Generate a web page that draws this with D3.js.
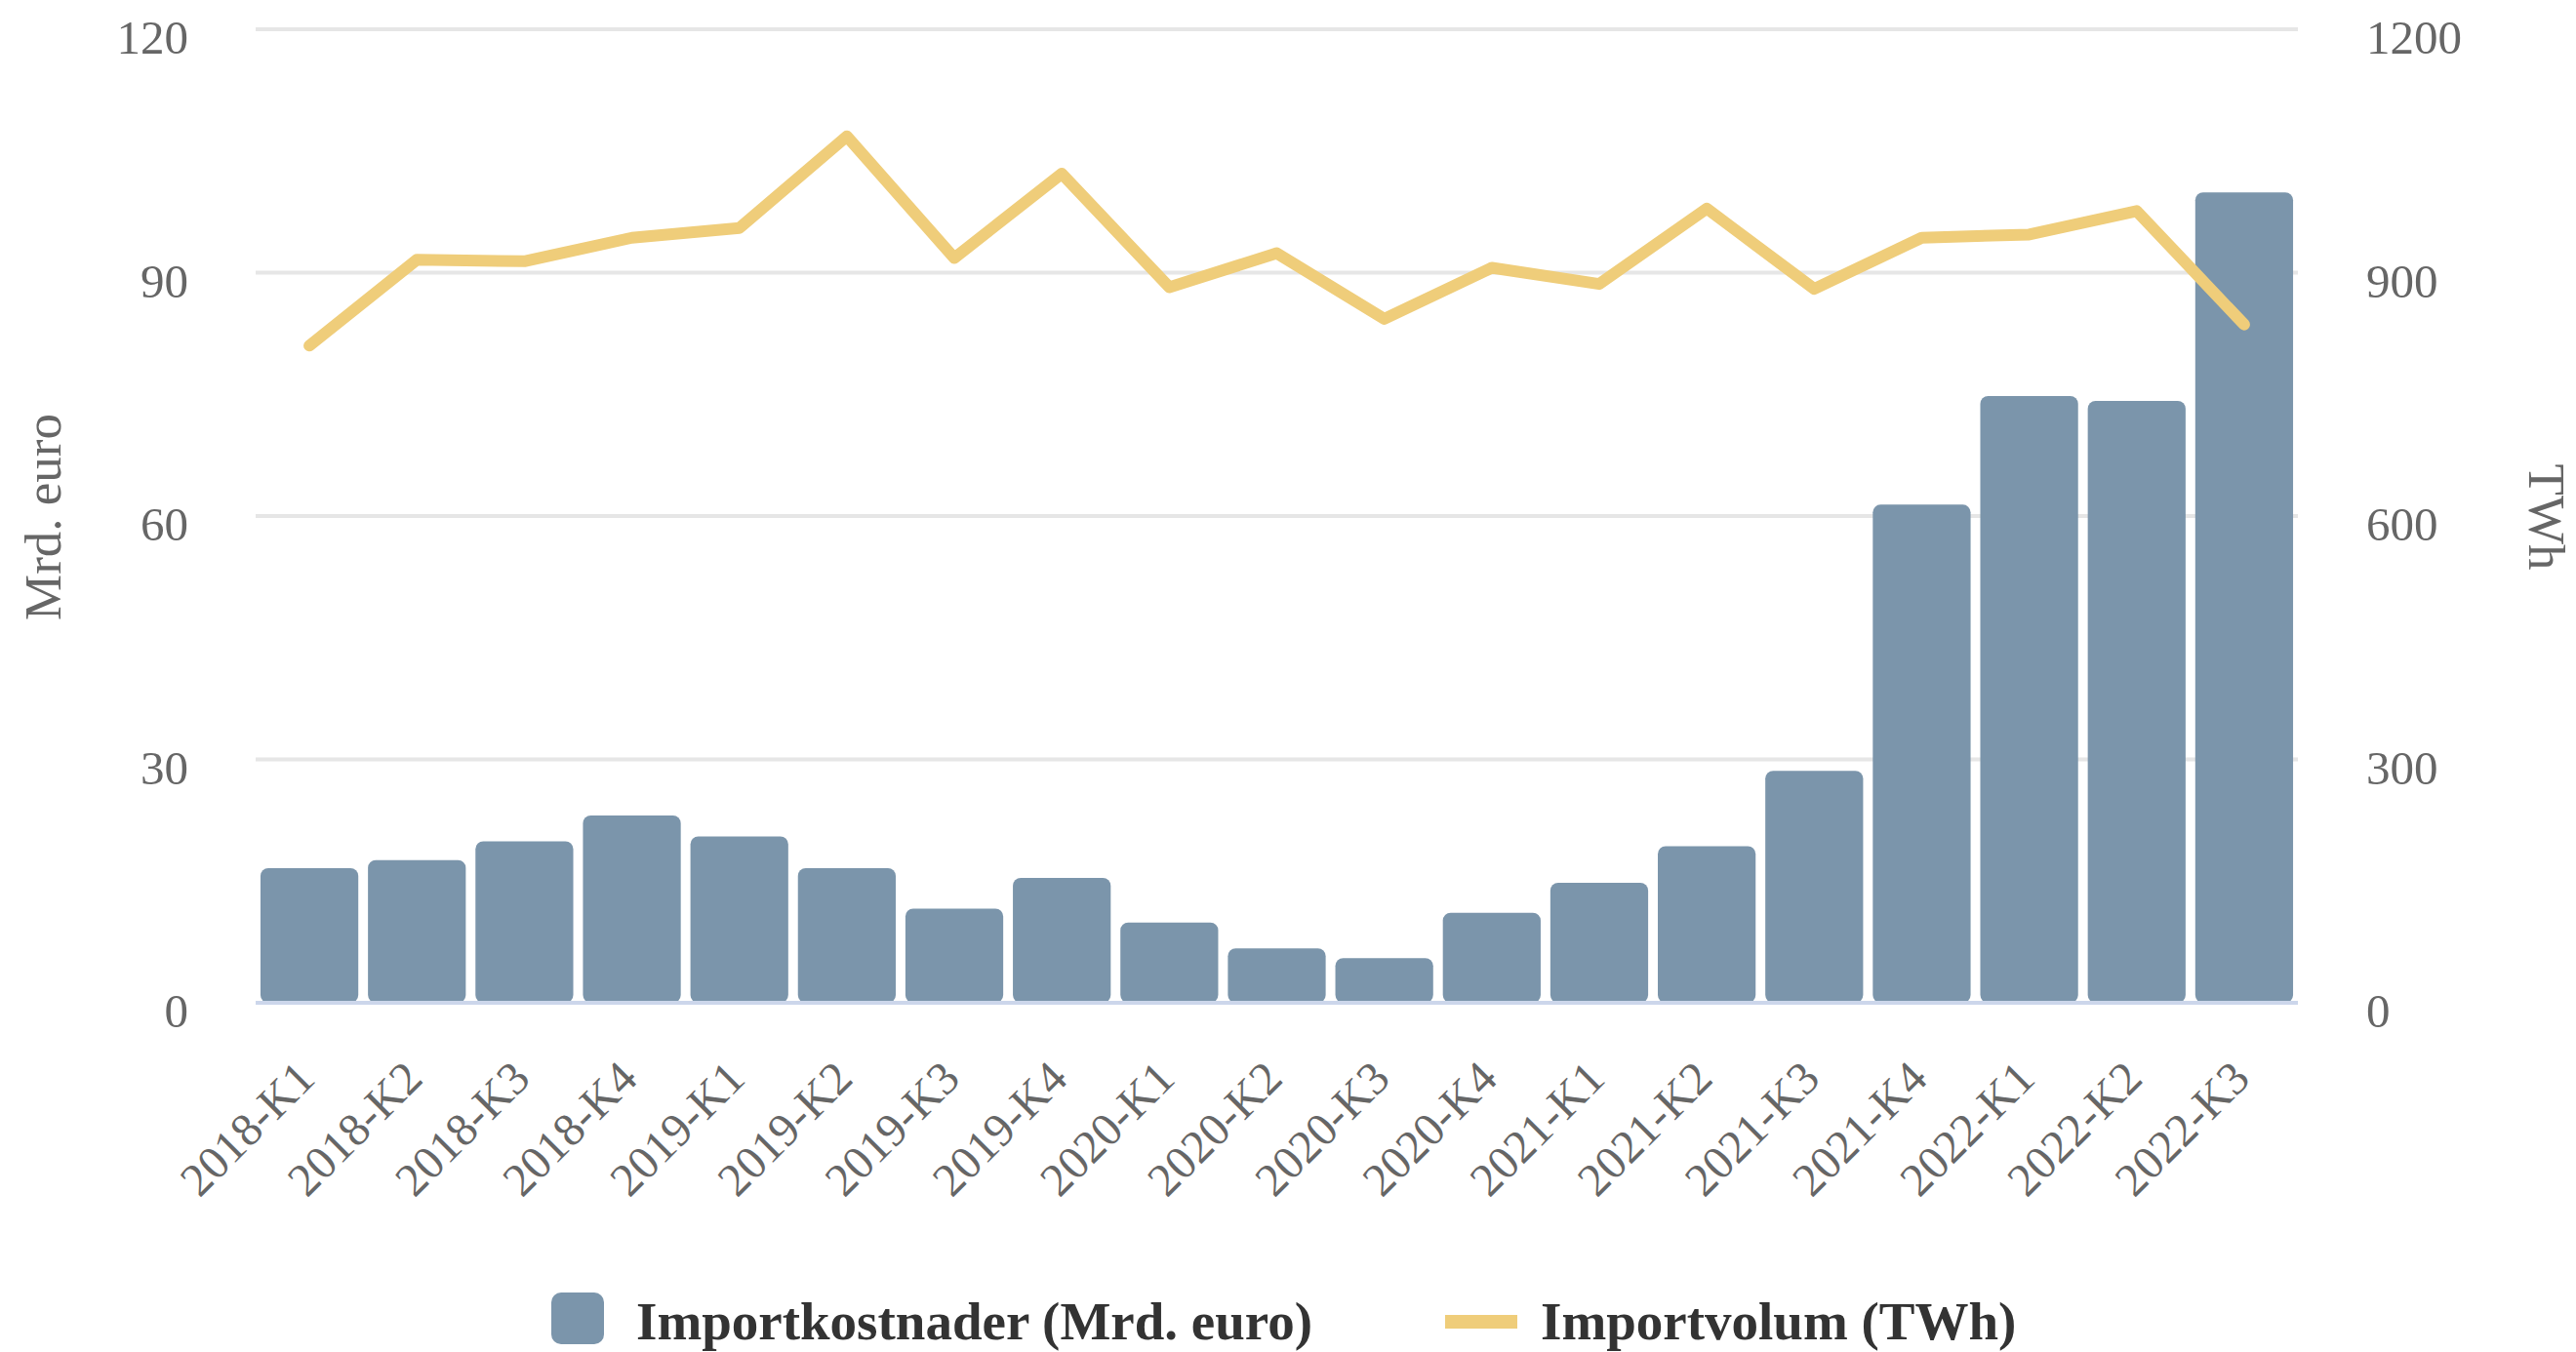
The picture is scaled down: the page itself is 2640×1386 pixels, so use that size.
<!DOCTYPE html>
<html lang="no">
<head>
  <meta charset="utf-8">
  <title>Importkostnader og importvolum</title>
  <script src="https://d3js.org/d3.v7.min.js"></script>
  <style>
    html, body { margin: 0; padding: 0; background: #fff; }
    svg { display: block; }
    text { font-family: "Liberation Serif", "Times New Roman", serif; }
  </style>
</head>
<body>
<svg id="chart" width="2640" height="1386"></svg>

<script>
// quarters
var quarters = ["2018-K1", "2018-K2", "2018-K3", "2018-K4",
                "2019-K1", "2019-K2", "2019-K3", "2019-K4",
                "2020-K1", "2020-K2", "2020-K3", "2020-K4",
                "2021-K1", "2021-K2", "2021-K3", "2021-K4",
                "2022-K1", "2022-K2", "2022-K3"];

// Importkostnader (Mrd. euro) - bars, left axis
var kostnader = [16.6, 17.6, 19.9, 23.1, 20.5, 16.6, 11.6, 15.4, 9.9, 6.7,
                 5.5, 11.1, 14.8, 19.3, 28.6, 61.4, 74.8, 74.2, 99.9];

// Importvolum (TWh) - line, right axis
var volum = [810, 916, 914, 943, 955, 1068, 918, 1022, 882, 924,
             843, 906, 886, 979, 880, 943, 947, 976, 836];

var leftTicks = [0, 30, 60, 90, 120];
var rightTicks = [0, 300, 600, 900, 1200];

// plot area (note: "top" is reserved on window, so use other names)
var svg = d3.select("#chart"),
    plotLeft = 262, plotRight = 2355, plotTop = 30, plotBottom = 1028;

var x = d3.scaleBand()
    .domain(quarters)
    .range([plotLeft, plotRight])
    .paddingInner(0.09)
    .paddingOuter(0.045);

var yL = d3.scaleLinear().domain([0, 120]).range([plotBottom, plotTop]);
var yR = d3.scaleLinear().domain([0, 1200]).range([plotBottom, plotTop]);

// gridlines
svg.append("g").selectAll("line")
    .data(leftTicks.slice(1))
    .enter().append("line")
      .attr("x1", plotLeft).attr("x2", plotRight)
      .attr("y1", function(d) { return yL(d); })
      .attr("y2", function(d) { return yL(d); })
      .attr("stroke", "#e6e6e6")
      .attr("stroke-width", 4);

// left tick labels
svg.append("g").selectAll("text")
    .data(leftTicks)
    .enter().append("text")
      .attr("x", 193)
      .attr("y", function(d) { return yL(d) + 25; })
      .attr("text-anchor", "end")
      .attr("fill", "#666666")
      .style("font-size", "49px")
      .text(function(d) { return d; });

// right tick labels
svg.append("g").selectAll("text")
    .data(rightTicks)
    .enter().append("text")
      .attr("x", 2425)
      .attr("y", function(d) { return yR(d) + 25; })
      .attr("text-anchor", "start")
      .attr("fill", "#666666")
      .style("font-size", "49px")
      .text(function(d) { return d; });

// axis titles
svg.append("text")
    .attr("transform", "translate(62,530) rotate(-90)")
    .attr("text-anchor", "middle")
    .attr("fill", "#666666")
    .style("font-size", "53px")
    .text("Mrd. euro");

svg.append("text")
    .attr("transform", "translate(2592,530) rotate(90)")
    .attr("text-anchor", "middle")
    .attr("fill", "#666666")
    .style("font-size", "53px")
    .text("TWh");

// bars
svg.append("g").selectAll("rect")
    .data(kostnader)
    .enter().append("rect")
      .attr("x", function(d, i) { return x(quarters[i]); })
      .attr("y", function(d) { return yL(d); })
      .attr("width", x.bandwidth())
      .attr("height", function(d) { return yL(0) - yL(d); })
      .attr("rx", 8)
      .attr("fill", "#7b95ab");

// x axis line
svg.append("line")
    .attr("x1", plotLeft).attr("x2", plotRight)
    .attr("y1", plotBottom).attr("y2", plotBottom)
    .attr("stroke", "#ccd6eb")
    .attr("stroke-width", 4);

// x labels, rotated
svg.append("g").selectAll("text")
    .data(quarters)
    .enter().append("text")
      .attr("transform", function(d) {
        return "translate(" + (x(d) + x.bandwidth() / 2 + 8) + ",1108) rotate(-45)";
      })
      .attr("text-anchor", "end")
      .attr("fill", "#666666")
      .style("font-size", "48px")
      .text(function(d) { return d; });

// line
var line = d3.line()
    .x(function(d, i) { return x(quarters[i]) + x.bandwidth() / 2; })
    .y(function(d) { return yR(d); });

svg.append("path")
    .datum(volum)
    .attr("d", line)
    .attr("fill", "none")
    .attr("stroke", "#efcd7a")
    .attr("stroke-width", 12)
    .attr("stroke-linecap", "round")
    .attr("stroke-linejoin", "round");

// legend
var legend = svg.append("g");

legend.append("rect")
    .attr("x", 565).attr("y", 1325)
    .attr("width", 54).attr("height", 53)
    .attr("rx", 10)
    .attr("fill", "#7b95ab");

legend.append("text")
    .attr("x", 652).attr("y", 1373)
    .attr("fill", "#333333")
    .style("font-size", "55px")
    .style("font-weight", "bold")
    .text("Importkostnader (Mrd. euro)");

legend.append("rect")
    .attr("x", 1481).attr("y", 1348)
    .attr("width", 74).attr("height", 14)
    .attr("fill", "#efcd7a");

legend.append("text")
    .attr("x", 1579).attr("y", 1373)
    .attr("fill", "#333333")
    .style("font-size", "55px")
    .style("font-weight", "bold")
    .text("Importvolum (TWh)");
</script>
</body>
</html>
